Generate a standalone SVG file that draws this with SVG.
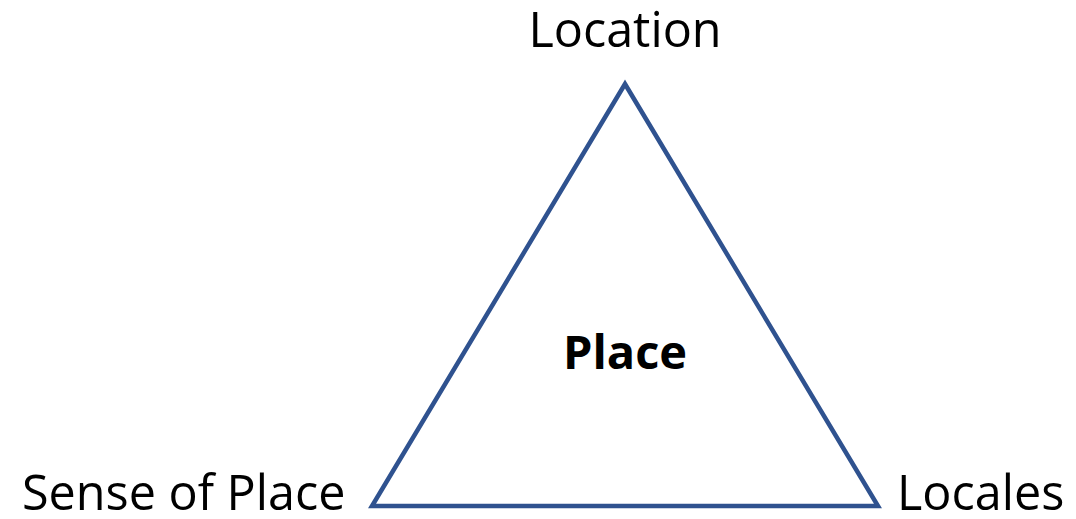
<svg xmlns="http://www.w3.org/2000/svg" width="1076" height="519" viewBox="0 0 1076 519">
<style>
.lbl{font-family:"Open Sans","Noto Sans",sans-serif;font-size:48.5px;fill:#000}
.ctr{font-family:"Open Sans","Noto Sans",sans-serif;font-size:47px;font-weight:bold;fill:#000}
.tri{fill:none;stroke:#2F528F;stroke-width:4.5;stroke-linejoin:miter}
</style>
<rect width="1076" height="519" fill="#fff"/>
<g id="triangle">
<polygon class="tri" points="625,84 372,506 878,506"/>
</g>
<g id="connectors"></g>
<g id="place"><text class="ctr" x="625" y="369" text-anchor="middle">Place</text></g>
<g id="location"><text class="lbl" x="625" y="47" text-anchor="middle">Location</text></g>
<g id="sense"><text class="lbl" x="22" y="510">Sense of Place</text></g>
<g id="locales"><text class="lbl" x="897" y="510">Locales</text></g>
</svg>
